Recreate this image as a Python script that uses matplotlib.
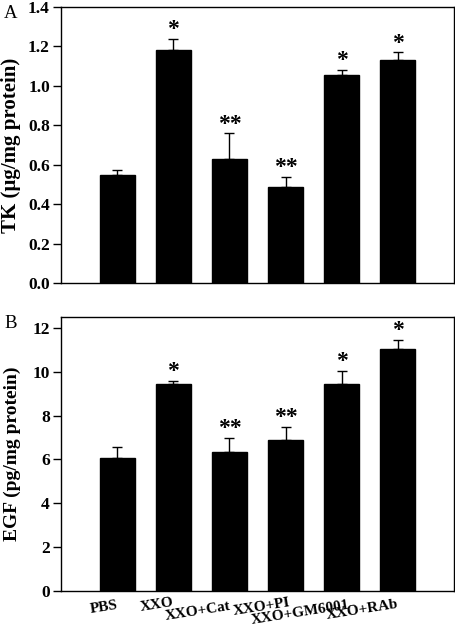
import matplotlib
matplotlib.use("Agg")
import matplotlib.pyplot as plt

plt.rcParams["font.family"] = ["Liberation Serif", "DejaVu Serif"]

groups = ["PBS", "XXO", "XXO+Cat", "XXO+PI", "XXO+GM6001", "XXO+RAb"]
tk_mean = [0.55, 1.18, 0.63, 0.485, 1.055, 1.13]
tk_err = [0.025, 0.06, 0.13, 0.055, 0.025, 0.04]
egf_mean = [6.05, 9.45, 6.35, 6.9, 9.45, 11.05]
egf_err = [0.5, 0.15, 0.65, 0.6, 0.6, 0.4]
marks = ["", "*", "**", "**", "*", "*"]

x = list(range(1, len(groups) + 1))

fig = plt.figure(figsize=(4.56, 6.29), dpi=100)
ax1 = fig.add_axes([0.1338, 0.5501, 0.8618, 0.4388])
ax2 = fig.add_axes([0.1338, 0.0604, 0.8618, 0.4356])


def draw_panel(ax, mean, err, ylim, yticks, fmt, ylabel, label_size):
    ax.bar(x, mean, width=0.62, color="black", edgecolor="black", zorder=2)
    ax.errorbar(x, mean, yerr=[[0] * len(err), err], fmt="none",
                ecolor="black", elinewidth=1.0, capsize=3.5, capthick=1.0, zorder=3)
    ax.set_xlim(0, 7)
    ax.set_ylim(*ylim)
    ax.set_yticks(yticks)
    ax.set_yticklabels([fmt.format(v) for v in yticks], fontsize=12.5, fontweight="bold")
    ax.set_xticks([])
    ax.tick_params(axis="y", direction="out", length=6, width=1.0, pad=2)
    for s in ax.spines.values():
        s.set_linewidth(1.0)
    ax.set_ylabel(ylabel, fontsize=label_size, fontweight="bold")
    ax.yaxis.set_label_coords(-0.101, 0.5)
    for xi, m, e, s in zip(x, mean, err, marks):
        if s:
            ax.annotate(s, (xi, m + e), xytext=(0, -1), textcoords="offset points",
                        ha="center", va="bottom", fontsize=17, fontweight="bold")


draw_panel(ax1, tk_mean, tk_err, (0, 1.4), [0.0, 0.2, 0.4, 0.6, 0.8, 1.0, 1.2, 1.4],
           "{:.1f}", "TK (\u00b5g/mg protein)", 15)
draw_panel(ax2, egf_mean, egf_err, (0, 12.5), [0, 2, 4, 6, 8, 10, 12],
           "{:d}", "EGF (pg/mg protein)", 14)

fig.text(11 / 456, 1 - 14 / 629, "A", fontsize=13.5, ha="center", va="center")
fig.text(11 / 456, 1 - 324 / 629, "B", fontsize=13.5, ha="center", va="center")

# staggered, slightly rotated category labels under panel B
label_dx = [-0.23, -0.29, -0.57, -0.43, -0.73, -0.63]
label_y = [-0.058, -0.051, -0.073, -0.058, -0.080, -0.069]
for xi, name, dx, yy in zip(x, groups, label_dx, label_y):
    ax2.text(xi + dx, yy, name, transform=ax2.get_xaxis_transform(),
             ha="center", va="center", rotation=9, fontsize=11, fontweight="bold")

fig.savefig("out.png", dpi=100)
